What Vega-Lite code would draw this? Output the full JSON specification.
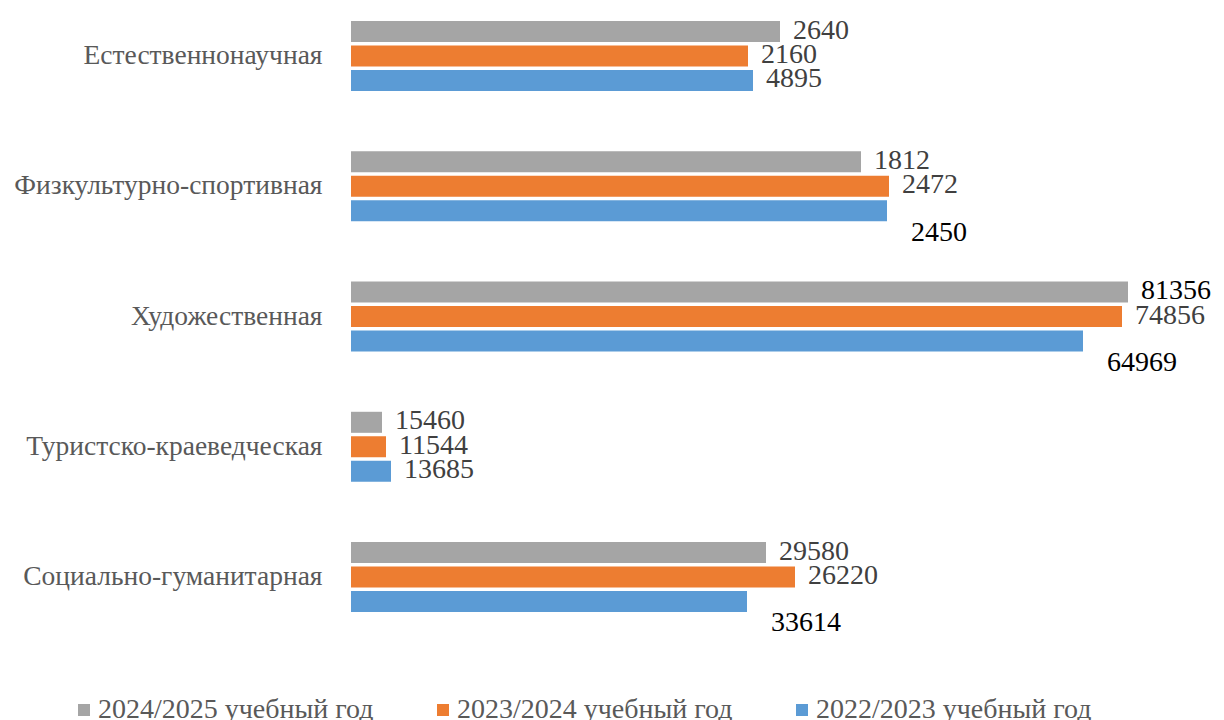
{
  "$schema": "https://vega.github.io/schema/vega-lite/v6.json",
  "width": 800,
  "height": 591,
  "autosize": {"type": "none"},
  "padding": {"left": 351, "top": 21, "right": 73, "bottom": 108},
  "config": {"view": {"stroke": null}, "font": "Liberation Serif"},
  "data": {
    "values": [
      {"cat": "Естественнонаучная", "year": "2024/2025 учебный год", "bar": 429, "label": "2640"},
      {"cat": "Естественнонаучная", "year": "2023/2024 учебный год", "bar": 397, "label": "2160"},
      {"cat": "Естественнонаучная", "year": "2022/2023 учебный год", "bar": 402, "label": "4895"},
      {"cat": "Физкультурно-спортивная", "year": "2024/2025 учебный год", "bar": 510, "label": "1812"},
      {"cat": "Физкультурно-спортивная", "year": "2023/2024 учебный год", "bar": 538, "label": "2472"},
      {"cat": "Физкультурно-спортивная", "year": "2022/2023 учебный год", "bar": 536, "label": "2450"},
      {"cat": "Художественная", "year": "2024/2025 учебный год", "bar": 777, "label": "81356"},
      {"cat": "Художественная", "year": "2023/2024 учебный год", "bar": 771, "label": "74856"},
      {"cat": "Художественная", "year": "2022/2023 учебный год", "bar": 732, "label": "64969"},
      {"cat": "Туристско-краеведческая", "year": "2024/2025 учебный год", "bar": 31, "label": "15460"},
      {"cat": "Туристско-краеведческая", "year": "2023/2024 учебный год", "bar": 35, "label": "11544"},
      {"cat": "Туристско-краеведческая", "year": "2022/2023 учебный год", "bar": 40, "label": "13685"},
      {"cat": "Социально-гуманитарная", "year": "2024/2025 учебный год", "bar": 415, "label": "29580"},
      {"cat": "Социально-гуманитарная", "year": "2023/2024 учебный год", "bar": 444, "label": "26220"},
      {"cat": "Социально-гуманитарная", "year": "2022/2023 учебный год", "bar": 396, "label": "33614"}
    ]
  },
  "encoding": {
    "y": {
      "field": "cat", "type": "nominal",
      "sort": ["Естественнонаучная", "Физкультурно-спортивная", "Художественная", "Туристско-краеведческая", "Социально-гуманитарная"],
      "scale": {"paddingInner": 0.463, "paddingOuter": 0},
      "axis": {"title": null, "ticks": false, "domain": false, "labelFont": "Liberation Serif", "labelFontSize": 27.5, "labelColor": "#595959", "labelPadding": 29, "labelLimit": 400}
    },
    "yOffset": {
      "field": "year", "type": "nominal",
      "sort": ["2024/2025 учебный год", "2023/2024 учебный год", "2022/2023 учебный год"],
      "scale": {"paddingInner": 0.14, "paddingOuter": 0}
    },
    "x": {"field": "bar", "type": "quantitative", "scale": {"domain": [0, 800]}, "axis": null}
  },
  "layer": [
    {
      "mark": {"type": "bar"},
      "encoding": {
        "color": {
          "field": "year", "type": "nominal",
          "scale": {"domain": ["2024/2025 учебный год", "2023/2024 учебный год", "2022/2023 учебный год"], "range": ["#A5A5A5", "#ED7D31", "#5B9BD5"]},
          "legend": {
            "title": null, "orient": "none", "direction": "horizontal", "columns": 3,
            "legendX": -281, "legendY": 675, "padding": 0,
            "symbolType": "square", "symbolSize": 144, "symbolStrokeWidth": 0,
            "labelFont": "Liberation Serif", "labelFontSize": 28, "labelColor": "#595959", "labelLimit": 500,
            "labelOffset": 0, "columnPadding": 55
          }
        }
      }
    },
    {
      "transform": [{"filter": "indexof(['2450','64969','33614'], datum.label) < 0"}],
      "mark": {"type": "text", "align": "left", "baseline": "middle", "dx": 13, "dy": -1, "fontSize": 28, "font": "Liberation Serif"},
      "encoding": {
        "text": {"field": "label"},
        "color": {"condition": {"test": "datum.label == '81356'", "value": "#000000"}, "value": "#404040"}
      }
    },
    {
      "transform": [{"filter": "indexof(['2450','64969','33614'], datum.label) >= 0"}],
      "mark": {"type": "text", "align": "left", "baseline": "middle", "dx": 24, "dy": 22, "fontSize": 28, "font": "Liberation Serif", "color": "#000000"},
      "encoding": {"text": {"field": "label"}}
    }
  ]
}
